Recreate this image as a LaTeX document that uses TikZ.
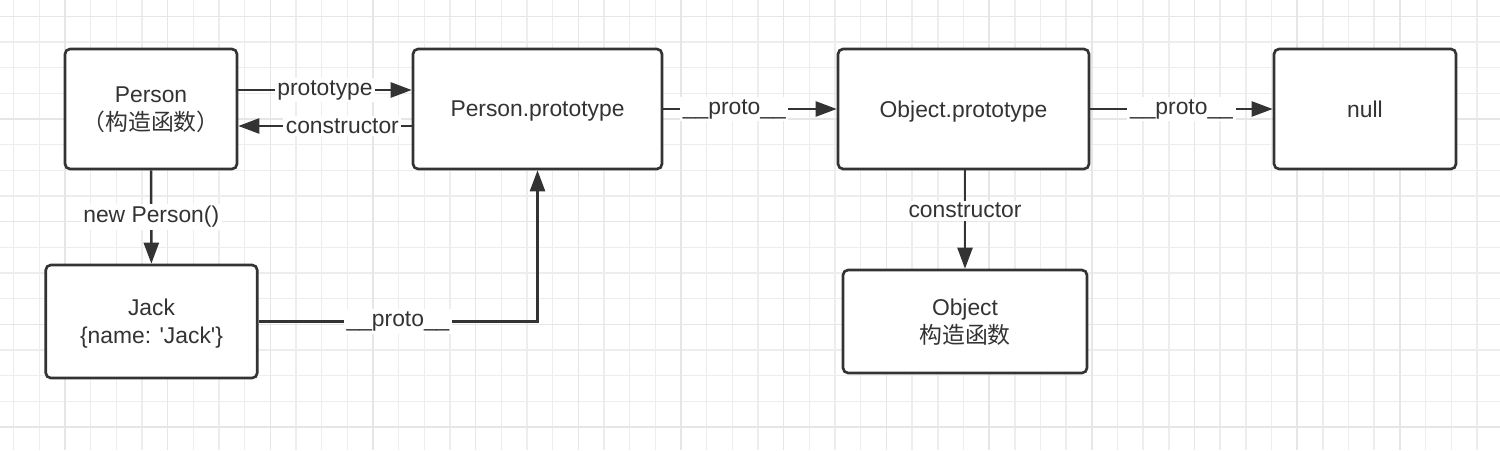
\documentclass[tikz,border=0pt]{standalone}
\usepackage{fontspec}
\usepackage{tikz}
\usetikzlibrary{arrows.meta}
\setmainfont{Liberation Sans}[Ligatures=TeXOff]
\newfontfamily\cjk{Noto Sans CJK SC}
\definecolor{ink}{HTML}{333333}
\definecolor{gridlight}{HTML}{EDEDED}
\definecolor{griddark}{HTML}{E6E6E6}

\begin{document}
\begin{tikzpicture}[x=0.02cm, y=-0.02cm, >={Triangle[length=0.42cm,width=0.3cm]},
    box/.style={rectangle, rounded corners=0.1cm, draw=ink, line width=1.5pt, fill=white,
        align=center, text=ink, font=\fontsize{13pt}{16pt}\selectfont, inner sep=0pt, text depth=0pt},
    link/.style={line width=1.4pt, draw=ink},
    lbl/.style={fill=white, text=ink, inner sep=1.5pt, font=\fontsize{13pt}{16pt}\selectfont}]
    \useasboundingbox (0,0) rectangle (1500,450);
    \fill[white] (0,0) rectangle (1500,450);

    % grid
    \foreach \i in {0,...,57} \draw[gridlight, line width=0.8pt] ({13.67+25.67*\i},0) -- ++(0,450);
    \foreach \i in {0,...,16} \draw[gridlight, line width=0.8pt] (0,{16.3+25.67*\i}) -- ++(1500,0);
    \foreach \i in {0,...,13} \draw[griddark, line width=0.9pt] ({65+102.67*\i},0) -- ++(0,450);
    \foreach \i in {0,...,4} \draw[griddark, line width=0.9pt] (0,{16.3+102.67*\i}) -- ++(1500,0);

    \node[box, minimum width=3.44cm, minimum height=2.4cm] (person) at (151,109) {Person\\{\cjk （构造函数）}};
    \node[box, minimum width=4.98cm, minimum height=2.4cm] (pp) at (537.5,109) {Person.prototype};
    \node[box, minimum width=5.02cm, minimum height=2.4cm] (op) at (963.5,109) {Object.prototype};
    \node[box, minimum width=3.64cm, minimum height=2.4cm] (null) at (1365,109) {null};
    \node[box, minimum width=4.23cm, minimum height=2.26cm] (jack) at (151.5,321.5) {Jack\\\{name: 'Jack'\}};
    \node[box, minimum width=4.88cm, minimum height=2.06cm] (objctor) at (965,321.5) {Object\\{\cjk 构造函数}};

    \draw[link,->] ([yshift=0.38cm]person.east) -- node[lbl] {prototype} ([yshift=0.38cm]pp.west);
    \draw[link,->] ([yshift=-0.34cm]pp.west) -- node[lbl, pos=0.4] {constructor} ([yshift=-0.34cm]person.east);
    \draw[link,->] (person) -- node[lbl] {new Person()} (jack);
    \draw[link,->] (jack.east) -| node[lbl, pos=0.25] {\_\_proto\_\_} (pp.south);
    \draw[link,->] (pp) -- node[lbl, pos=0.41] {\_\_proto\_\_} (op);
    \draw[link,->] (op) -- node[lbl] {\_\_proto\_\_} (null);
    \draw[link,->] (op.south -| objctor.north) -- node[lbl, pos=0.41] {constructor} (objctor.north);
\end{tikzpicture}
\end{document}
